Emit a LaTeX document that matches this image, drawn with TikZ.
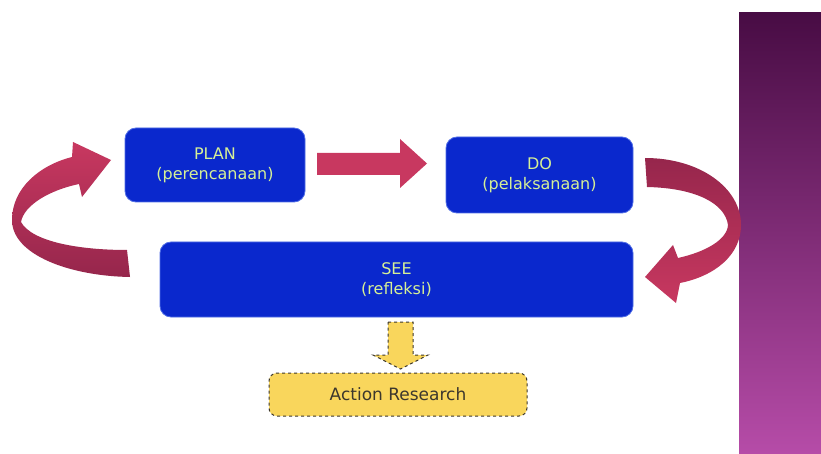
\documentclass[tikz,border=0pt]{standalone}
\usepackage{fontspec}
\setmainfont{DejaVu Sans}
\definecolor{boxblue}{RGB}{10,40,205}
\definecolor{boxedge}{RGB}{80,110,230}
\definecolor{boxtext}{RGB}{214,240,150}
\definecolor{crimson}{RGB}{200,56,96}
\definecolor{crimsondark}{RGB}{150,38,76}
\definecolor{ayellow}{RGB}{249,214,92}
\definecolor{adark}{RGB}{60,55,45}
\definecolor{ptop}{RGB}{72,12,68}
\definecolor{pmid}{RGB}{118,38,115}
\definecolor{pbot}{RGB}{182,76,168}
\begin{document}
\begin{tikzpicture}[x=1pt,y=-1pt,
  stagebox/.style={rectangle, rounded corners=11pt, fill=boxblue, draw=boxedge,
    line width=0.8pt, text=boxtext, align=center,
    font=\fontsize{16}{20}\selectfont, inner sep=0pt},
  resbox/.style={rectangle, rounded corners=8pt, fill=ayellow, draw=adark,
    dashed, line width=1pt, text=adark, font=\fontsize{17}{20}\selectfont,
    inner sep=0pt},
  flatarrow/.style={fill=crimson},
  dasharrow/.style={fill=ayellow, draw=adark, dashed, line width=1pt}]
\useasboundingbox (0,0) rectangle (821,454);
\fill[white] (0,0) rectangle (821,454);
% purple side panel
\shade[top color=ptop, middle color=pmid, bottom color=pbot] (739,13) rectangle (821,454);

% stage boxes
\node[stagebox, minimum width=180pt, minimum height=74pt] (plan) at (215,165) {PLAN\\(perencanaan)};
\node[stagebox, minimum width=187pt, minimum height=76pt] (do) at (539.5,175) {DO\\(pelaksanaan)};
\node[stagebox, minimum width=473pt, minimum height=75pt] (see) at (396.5,279.5) {SEE\\(refleksi)};
\node[resbox, minimum width=258pt, minimum height=43pt] (ar) at (398,394.5) {Action Research};

% straight arrow PLAN -> DO
\fill[flatarrow] (317,153) -- (400,153) -- (400,139) -- (427,163.5) -- (400,188) -- (400,175) -- (317,175) -- cycle;

% curved arrow DO -> SEE
\shade[top color=crimsondark, bottom color=crimson]
  (645,158) .. controls (700,158) and (741,188) .. (741,225)
  .. controls (741,255) and (715,276) .. (680,283)
  -- (676,303) -- (645,277) -- (673,245) -- (678,258)
  .. controls (705,252) and (727,240) .. (728,225)
  .. controls (725,203) and (695,188) .. (647,187) -- cycle;

% curved arrow SEE -> PLAN
\shade[top color=crimson, bottom color=crimsondark]
  (130,277) .. controls (70,276) and (12,255) .. (12,220)
  .. controls (12,188) and (40,165) .. (72,157)
  -- (73,142) -- (111,160) -- (82,197) -- (79,184)
  .. controls (50,190) and (24,205) .. (21,222)
  .. controls (32,242) and (80,250) .. (127,250) -- cycle;

% dashed arrow SEE -> Action Research
\draw[dasharrow] (388,322) -- (413,322) -- (413,355) -- (428,355) -- (400.5,369) -- (373,355) -- (388,355) -- cycle;
\end{tikzpicture}
\end{document}
